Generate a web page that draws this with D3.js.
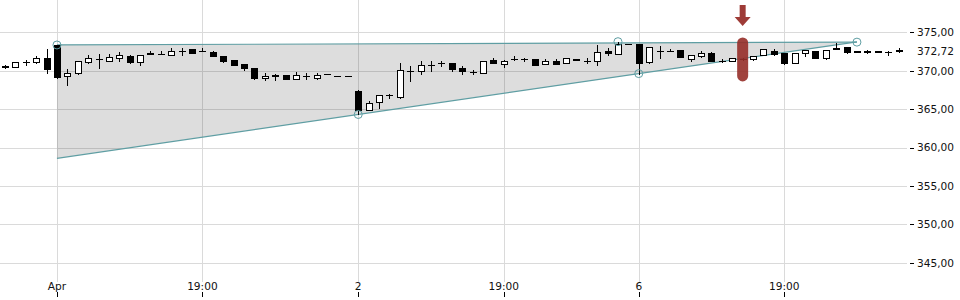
<!DOCTYPE html>
<html>
<head>
<meta charset="utf-8">
<script src="https://cdn.jsdelivr.net/npm/d3@7"></script>
<style>
  html, body { margin: 0; padding: 0; background: #fff; }
  svg { display: block; }
  text { font-family: "DejaVu Sans", sans-serif; font-size: 10.6px; fill: #111; }
</style>
</head>
<body>
<svg id="chart" width="960" height="300"></svg>
<script>
// ---- data ----
const opens  = [370.55,370.52,371.12,371.1,371.7,373.35,369.35,369.66,371.1,371.55,371.26,371.7,371.95,371.1,372.26,372.22,372.05,372.6,372.8,372.62,372.5,371.9,371.4,370.83,370.3,369.0,369.38,369.44,368.9,369.31,369.1,369.53,369.3,369.3,367.4,364.9,365.96,366.84,366.54,370.02,370.0,370.75,371.06,371.04,370.35,369.82,369.66,371.35,370.87,371.5,371.53,371.48,370.83,371.3,370.96,371.5,371.31,371.3,372.6,372.17,373.47,373.47,371.1,372.61,372.62,372.65,371.55,371.9,372.35,371.31,371.3,371.49,371.48,372.05,372.6,372.27,371.04,372.27,372.57,371.6,372.92,373.05,372.51,372.51,372.6,372.41,372.6];
const highs  = [370.7,371.12,371.4,371.9,372.8,373.4,370.2,371.3,372.1,372.2,372.2,372.4,372.1,372.1,372.6,372.55,372.9,372.9,372.85,372.9,372.55,371.95,371.45,370.85,370.32,369.65,369.55,369.46,369.8,369.75,369.7,369.53,369.3,369.3,367.45,366.1,366.85,367.0,371.04,370.65,371.2,371.2,371.3,371.05,370.6,370.05,371.27,371.6,371.45,371.9,371.7,371.5,371.5,371.55,371.62,371.52,371.6,373.35,372.9,373.78,373.48,373.5,373.1,373.25,372.8,372.7,372.1,372.6,372.4,371.5,371.62,371.6,371.97,372.82,372.8,372.3,372.3,372.72,372.6,372.72,373.65,373.1,372.6,372.7,372.62,372.6,372.9];
const lows   = [370.35,370.5,370.8,371.0,369.7,369.1,368.1,369.6,371.0,370.3,371.2,371.3,370.95,370.8,372.2,372.15,372.05,372.1,372.35,372.55,371.9,371.15,370.7,370.1,368.95,368.8,368.85,368.88,368.9,368.9,368.9,369.53,369.3,369.3,364.4,364.9,365.1,366.5,366.5,368.7,369.57,370.0,370.6,370.0,369.6,369.6,369.65,370.98,370.5,371.45,371.3,370.74,370.83,370.9,370.96,371.44,370.96,370.74,372.0,372.17,373.44,369.6,371.05,371.7,372.57,371.8,371.3,371.8,371.3,371.1,371.28,371.4,371.45,372.0,372.1,370.85,371.0,371.9,371.6,371.58,372.85,372.35,372.4,372.3,372.38,372.1,372.5];
const closes = [370.5,371.09,371.08,371.6,370.2,369.2,369.66,371.26,371.6,371.5,371.75,372.0,371.1,372.05,372.22,372.2,372.6,372.62,372.35,372.58,371.9,371.2,370.75,370.31,369.0,369.35,369.32,368.9,369.44,369.28,369.5,369.53,369.3,369.3,364.9,365.83,366.83,366.82,370.1,369.98,370.74,370.73,371.0,370.18,369.95,369.78,371.26,371.0,371.26,371.53,371.5,370.74,371.26,370.9,371.6,371.45,371.29,372.4,372.27,373.47,373.45,371.04,373.05,372.59,372.58,371.8,372.05,372.35,371.3,371.29,371.6,371.47,371.95,372.8,372.17,371.04,372.27,372.7,371.6,372.7,372.88,372.4,372.49,372.49,372.4,372.39,372.72];

const xTickIndex  = [5, 19, 34, 48, 61, 75];
const xTickLabels = ["Apr", "19:00", "2", "19:00", "6", "19:00"];
const yTicks      = [345, 350, 355, 360, 365, 370, 375];
const lastValue   = 372.72;

// trend channel anchors (candle index, price)
const upperLine   = [[5, 373.35], [82, 373.72]];
const lowerAnchor = [[34, 364.3], [61, 369.62]];
const lowerSpan   = [5, 82];
const trendMarks  = [[5, 373.35], [34, 364.3], [59, 373.78], [61, 369.62], [82, 373.72]];
const markerIndex = 71;

// ---- layout ----
const W = 960, H = 300;
const plotRight = 907, plotBottom = 282;
const svg = d3.select("#chart");

const x = d3.scaleLinear().domain([0, closes.length - 1]).range([5, 898.5]);
const y = d3.scaleLinear().domain([345, 375]).range([262.7, 32.3]);
const fmt = v => d3.format(".2f")(v).replace(".", ",");
const px = v => Math.round(v) + 0.5;

// grid
const grid = svg.append("g");
grid.selectAll("line.h").data(yTicks).join("line")
  .attr("x1", 0).attr("x2", plotRight)
  .attr("y1", d => px(y(d))).attr("y2", d => px(y(d)))
  .attr("stroke", "#dadada");
grid.selectAll("line.v").data(xTickIndex).join("line")
  .attr("x1", d => px(x(d))).attr("x2", d => px(x(d)))
  .attr("y1", 0).attr("y2", plotBottom)
  .attr("stroke", "#dadada");

// trend channel
const lowSlope = (lowerAnchor[1][1] - lowerAnchor[0][1]) / (lowerAnchor[1][0] - lowerAnchor[0][0]);
const lowAt = i => lowerAnchor[0][1] + (i - lowerAnchor[0][0]) * lowSlope;
const lowerLine = [[lowerSpan[0], lowAt(lowerSpan[0])], [lowerSpan[1], lowAt(lowerSpan[1])]];
const poly = [upperLine[0], upperLine[1], lowerLine[1], lowerLine[0]];
svg.append("path")
  .attr("d", d3.line().x(d => x(d[0])).y(d => y(d[1]))(poly) + "Z")
  .attr("fill", "rgba(0,0,0,0.135)");
[upperLine, lowerLine].forEach(l => {
  svg.append("path")
    .attr("d", d3.line().x(d => x(d[0])).y(d => y(d[1]))(l))
    .attr("stroke", "#5f9ea3").attr("stroke-width", 1.2).attr("fill", "none");
});

// candles
const data = closes.map((c, i) => ({ i, o: opens[i], h: highs[i], l: lows[i], c }));
const cg = svg.append("g");
cg.selectAll("line.wick").data(data).join("line")
  .attr("x1", d => px(x(d.i))).attr("x2", d => px(x(d.i)))
  .attr("y1", d => Math.round(y(d.h))).attr("y2", d => Math.round(y(d.l)) + 1)
  .attr("stroke", "#000");
cg.selectAll("rect.body").data(data).join("rect")
  .attr("x", d => Math.round(x(d.i)) - 3 + 0.5)
  .attr("width", 6)
  .attr("y", d => Math.round(y(Math.max(d.o, d.c))) + 0.5)
  .attr("height", d => Math.max(0.001, Math.round(y(Math.min(d.o, d.c))) - Math.round(y(Math.max(d.o, d.c)))))
  .attr("fill", d => d.c >= d.o ? "#fff" : "#000")
  .attr("stroke", "#000");

// trend markers
svg.selectAll("circle.tm").data(trendMarks).join("circle")
  .attr("cx", d => x(d[0])).attr("cy", d => y(d[1])).attr("r", 4)
  .attr("fill", "none").attr("stroke", "#5f9ea3").attr("stroke-width", 1);

// red highlight marker
const mx = x(markerIndex), my = y(closes[markerIndex]);
svg.append("rect")
  .attr("x", mx - 5.5).attr("y", my - 22).attr("width", 11).attr("height", 44)
  .attr("rx", 5.5).attr("fill", "rgba(150,45,40,0.9)");
svg.append("path")
  .attr("d", `M${mx - 3},5 H${mx + 3} V17 H${mx + 8} L${mx},26 L${mx - 8},17 H${mx - 3} Z`)
  .attr("fill", "#9e3b37");

// y axis
const ya = svg.append("g");
ya.selectAll("line").data(yTicks).join("line")
  .attr("x1", 910).attr("x2", 914)
  .attr("y1", d => px(y(d))).attr("y2", d => px(y(d)))
  .attr("stroke", "#000");
ya.selectAll("text").data(yTicks).join("text")
  .attr("x", 917).attr("y", d => y(d)).attr("dy", "0.36em")
  .text(fmt);
svg.append("text").attr("x", 917).attr("y", y(lastValue) + 1.5).attr("dy", "0.36em").text(fmt(lastValue));

// x axis
const xa = svg.append("g");
xa.selectAll("line").data(xTickIndex).join("line")
  .attr("x1", d => px(x(d))).attr("x2", d => px(x(d)))
  .attr("y1", 292).attr("y2", 297).attr("stroke", "#000");
xa.selectAll("text").data(xTickIndex).join("text")
  .attr("x", d => x(d)).attr("y", 290).attr("text-anchor", "middle")
  .text((d, k) => xTickLabels[k]);
</script>
</body>
</html>
